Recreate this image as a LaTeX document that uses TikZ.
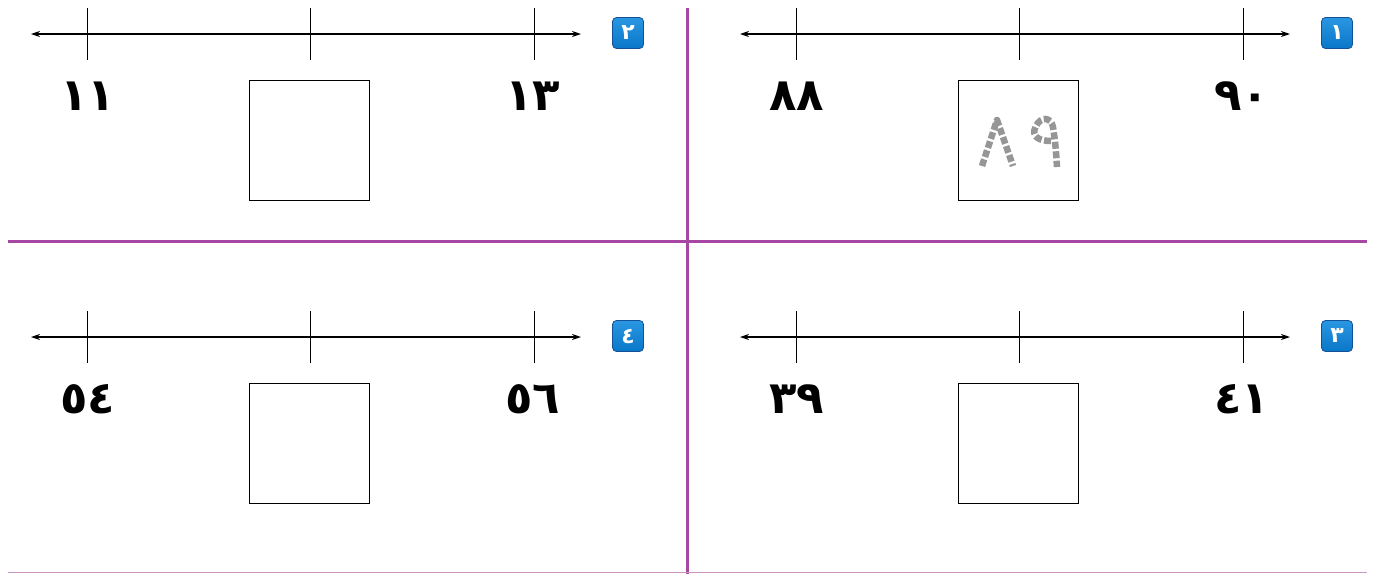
\documentclass[tikz,border=0pt]{standalone}
\usepackage{fontspec}
\newfontfamily\arfont{DejaVu Sans}
\usetikzlibrary{arrows.meta}
\definecolor{divpurple}{RGB}{166,72,163}
\definecolor{badgeblue}{RGB}{10,120,200}
\definecolor{badgelight}{RGB}{40,150,225}
\definecolor{badgeedge}{RGB}{20,80,150}
\definecolor{tracegray}{RGB}{150,150,150}
\definecolor{baseline}{RGB}{200,150,190}
\tikzset{
  numline/.style={{Stealth[length=9pt,width=6pt]}-{Stealth[length=9pt,width=6pt]}, line width=1.2pt, black},
  tickline/.style={line width=1pt, black},
  numlbl/.style={font=\arfont\bfseries\fontsize{45}{50}\selectfont, inner sep=0pt},
  ansbox/.style={draw, line width=1pt, minimum width=120pt, minimum height=120pt, inner sep=0pt},
  badge/.style={top color=badgelight, bottom color=badgeblue, draw=badgeedge, line width=0.8pt, rounded corners=4pt, minimum width=31pt, minimum height=31pt, inner sep=0pt, text=white, font=\arfont\bfseries\fontsize{22}{24}\selectfont},
  divider/.style={draw=divpurple, line width=3pt},
  trace/.style={draw=tracegray, line width=6.5pt, dash pattern=on 7pt off 2.5pt, line cap=butt},
}
\newcommand\numpanel[5]{%
\begin{scope}[shift={#2}]
  \coordinate (#1L) at (740,34);
  \coordinate (#1R) at (1290,34);
  \draw[numline] (#1L) -- (#1R);
  \foreach \x/\n in {796/a,1019/b,1243/c}{%
    \coordinate (#1t\n1) at (\x,8);
    \coordinate (#1t\n2) at (\x,60);
    \draw[tickline] (#1t\n1) -- (#1t\n2);
  }
  \node[numlbl] (#1lab1) at (797,96) {#3};
  \node[numlbl] (#1lab2) at (1242,96) {#4};
  \node[ansbox] (#1box) at (1018.5,140) {};
  \node[badge] (#1badge) at (1337,33) {#5};
\end{scope}}
\begin{document}
\begin{tikzpicture}[x=1pt,y=-1pt]
\useasboundingbox (0,0) rectangle (1377,574);
\fill[white] (0,0) rectangle (1377,574);
\numpanel{p1}{(0,0)}{٨٨}{٩٠}{١}
\numpanel{p2}{(-709,0)}{١١}{١٣}{٢}
\numpanel{p3}{(0,303)}{٣٩}{٤١}{٣}
\numpanel{p4}{(-709,303)}{٥٤}{٥٦}{٤}
% dividers
\coordinate (vtop) at (687,8);
\coordinate (vbot) at (687,574);
\coordinate (hl) at (8,241);
\coordinate (hr) at (1367,241);
\coordinate (bl) at (8,572.5);
\coordinate (br) at (1367,572.5);
\draw[divider] (vtop) -- (vbot);
\draw[divider] (hl) -- (hr);
\draw[draw=baseline, line width=1pt] (bl) -- (br);
% traced answer 89
\coordinate (e1) at (982,166);
\coordinate (e2) at (997,120);
\coordinate (e3) at (1013,166);
\draw[trace, line join=round] (e1) -- (e2) -- (e3);
\coordinate (n1) at (1051,141);
\coordinate (n2) at (1057,167);
\draw[trace] (n1) .. controls (1040,141) and (1030,137) .. (1036,126)
  .. controls (1041,116) and (1051,117) .. (1053,127)
  .. controls (1055,140) and (1056,150) .. (n2);
\end{tikzpicture}
\end{document}
